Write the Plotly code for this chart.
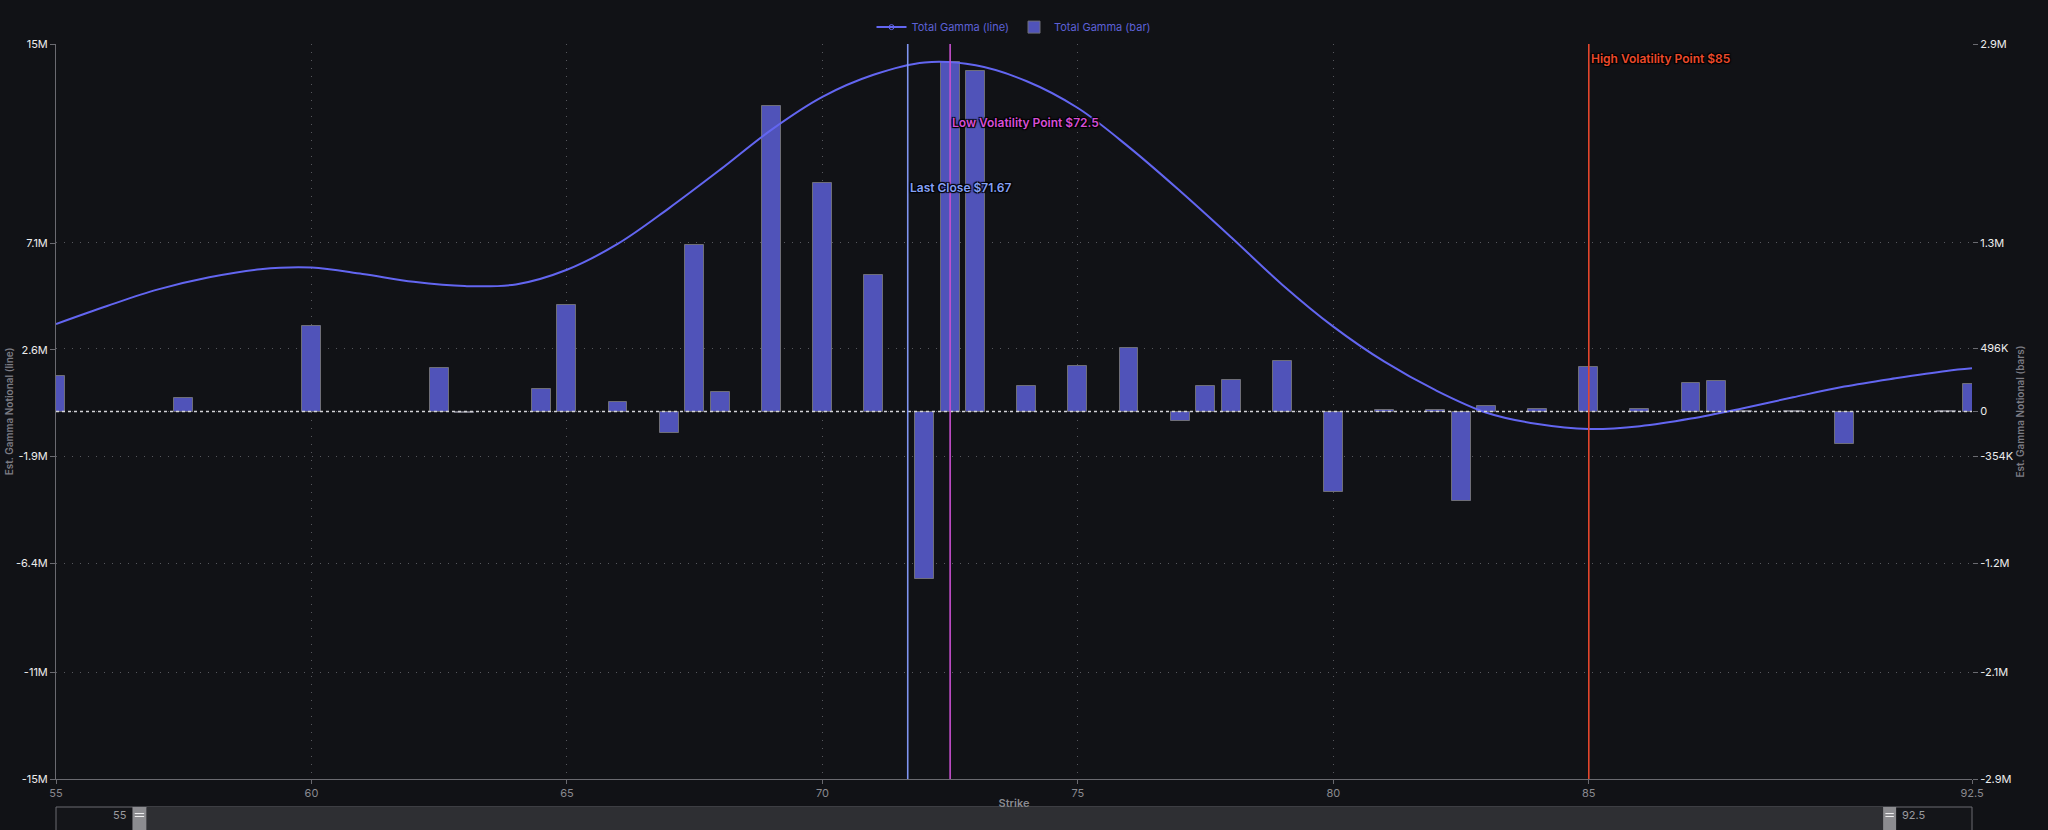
import plotly.graph_objects as go

# strikes and gamma notional
bar_strikes = [55, 57.5, 60, 62.5, 63, 64.5, 65, 66, 67, 67.5,
               68, 69, 70, 71, 72, 72.5, 73, 74, 75, 76,
               77, 77.5, 78, 79, 80, 81, 82, 82.5, 83, 84,
               85, 86, 87, 87.5, 88, 89, 90, 92, 92.5]
bar_gamma = [284e3, 106e3, 678e3, 342e3, -13e3, 177e3, 840e3, 74e3, -170e3, 1310e3,
             155e3, 2410e3, 1800e3, 1076e3, -1320e3, 2760e3, 2690e3, 205e3, 358e3, 503e3,
             -72e3, 200e3, 245e3, 398e3, -636e3, 8e3, 8e3, -707e3, 40e3, 19e3,
             353e3, 16e3, 221e3, 242e3, 4e3, 6e3, -257e3, 5e3, 216e3]

line_strikes = [55, 56, 57, 58, 59, 60, 61, 62, 63, 64,
                65, 66, 67, 68, 69, 70, 71, 72, 73, 74,
                75, 76, 77, 78, 79, 80, 81, 82, 83, 84,
                85, 86, 87, 88, 89, 90, 91, 92, 92.5]
line_gamma = [3.69e6, 4.45e6, 5.15e6, 5.66e6, 6.0e6, 6.07e6, 5.8e6, 5.47e6, 5.29e6, 5.36e6,
              5.98e6, 7.08e6, 8.58e6, 10.2e6, 11.88e6, 13.27e6, 14.2e6, 14.72e6, 14.6e6, 13.93e6,
              12.8e6, 11.15e6, 9.3e6, 7.35e6, 5.35e6, 3.58e6, 2.1e6, 0.9e6, -0.05e6, -0.53e6,
              -0.74e6, -0.62e6, -0.3e6, 0.13e6, 0.6e6, 1.05e6, 1.4e6, 1.71e6, 1.82e6]

# key levels (vertical markers)
level_x = [71.67, 72.5, 85]
level_names = ["Last Close $71.67", "Low Volatility Point $72.5", "High Volatility Point $85"]
level_colors = ["#7f94f0", "#c84fcf", "#e4462c"]
level_text_colors = ["#86a0f6", "#d64fd6", "#ea4a2c"]
level_label_y = [0.805, 0.893, 0.9796]

# axis ticks
x_ticks = [55, 60, 65, 70, 75, 80, 85, 92.5]
left_tickvals = [-15.5e6, -11e6, -6.4e6, -1.9e6, 2.6e6, 7.1e6, 15.5e6]
left_ticktext = ["-15M", "-11M", "-6.4M", "-1.9M", "2.6M", "7.1M", "15M"]
right_tickvals = [-2.9e6, -2.06e6, -1.2e6, -0.354e6, 0, 0.496e6, 1.33e6, 2.9e6]
right_ticktext = ["-2.9M", "-2.1M", "-1.2M", "-354K", "0", "496K", "1.3M", "2.9M"]

BG = "#111216"
GRID = "#56575d"
FONT = "Inter, Roboto, sans-serif"

fig = go.Figure()

# bars on the right axis
fig.add_trace(go.Bar(x=bar_strikes, y=bar_gamma, yaxis="y", width=0.37,
                     marker=dict(color="#5053b9", line=dict(color="#6e6e78", width=1)),
                     name="Total Gamma (bar)", legendrank=2))

# smooth total gamma line on the left axis
fig.add_trace(go.Scatter(x=line_strikes, y=line_gamma, yaxis="y2", mode="lines",
                         line=dict(color="#6366f1", width=2, shape="spline"),
                         showlegend=False, hoverinfo="x+y"))
# legend entry for the line (line + hollow dot)
fig.add_trace(go.Scatter(x=[None], y=[None], yaxis="y2", mode="lines+markers",
                         line=dict(color="#6366f1", width=2),
                         marker=dict(symbol="circle-open", size=5, color="#6366f1"),
                         name="Total Gamma (line)", legendrank=1))

shapes = []
annotations = []

# dotted zero line
shapes.append(dict(type="line", xref="paper", x0=0, x1=1, yref="y", y0=0, y1=0,
                   line=dict(color="#d4d4d8", width=1.5, dash="dot")))

for x, name, col, tcol, ly in zip(level_x, level_names, level_colors, level_text_colors, level_label_y):
    shapes.append(dict(type="line", xref="x", x0=x, x1=x, yref="paper", y0=0, y1=1,
                       line=dict(color=col, width=1.6)))
    annotations.append(dict(x=x, xref="x", y=ly, yref="paper", text=name, showarrow=False,
                            xanchor="left", yanchor="middle", xshift=0,
                            font=dict(family=FONT, size=12, color=tcol, weight=600,
                                      shadow="1px 1px 1px #000, -1px -1px 1px #000, 1px -1px 1px #000, -1px 1px 1px #000")))

# range slider look-alike under the x axis
sy0, sy1 = -0.0381, -0.08
shapes.append(dict(type="rect", xref="paper", yref="paper", x0=0, x1=1, y0=sy0, y1=sy1,
                   fillcolor="#141519", line=dict(color="#6b6b70", width=1), layer="above"))
shapes.append(dict(type="rect", xref="paper", yref="paper", x0=0.0472, x1=0.9536, y0=sy0, y1=sy1,
                   fillcolor="#2e2f33", line=dict(width=0), layer="above"))
for hx0, hx1 in [(0.0399, 0.0472), (0.9536, 0.9604)]:
    shapes.append(dict(type="rect", xref="paper", yref="paper", x0=hx0, x1=hx1, y0=sy0, y1=sy1,
                       fillcolor="#8c8c90", line=dict(width=0), layer="above"))
    for gy in (-0.0470, -0.0510):
        shapes.append(dict(type="line", xref="paper", yref="paper", x0=hx0 + 0.0012, x1=hx1 - 0.0012,
                           y0=gy, y1=gy, line=dict(color="#f0f0f0", width=1), layer="above"))
annotations.append(dict(x=0.0380, y=-0.0490, xref="paper", yref="paper", text="55", showarrow=False,
                        xanchor="right", yanchor="middle", font=dict(family=FONT, size=11, color="#9a9a9e")))
annotations.append(dict(x=0.9625, y=-0.0490, xref="paper", yref="paper", text="92.5", showarrow=False,
                        xanchor="left", yanchor="middle", font=dict(family=FONT, size=11, color="#9a9a9e")))

fig.update_layout(
    template="none",
    width=2048, height=830,
    margin=dict(l=56, r=76, t=44, b=51),
    paper_bgcolor=BG, plot_bgcolor=BG,
    font=dict(family=FONT, size=11, color="#e6e6e6"),
    bargap=0,
    showlegend=True,
    legend=dict(orientation="h", x=0.5, xanchor="center", y=1.023, yanchor="middle",
                font=dict(family=FONT, size=11, color="#5d61d6"), bgcolor="rgba(0,0,0,0)",
                itemwidth=30, traceorder="normal"),
    xaxis=dict(range=[55, 92.5], tickvals=x_ticks, ticktext=[str(v) for v in x_ticks],
               showgrid=True, gridcolor=GRID, griddash="1px,7px", gridwidth=1,
               showline=True, linecolor="#6a6a70", linewidth=1,
               ticks="outside", ticklen=4, tickcolor="#6a6a70",
               tickfont=dict(family=FONT, size=11, color="#8a8a90"),
               zeroline=False, automargin=False,
               title=dict(text="Strike", standoff=0,
                          font=dict(family=FONT, size=11, color="#8a8a90", weight=600))),
    yaxis=dict(side="right", range=[-2.9e6, 2.9e6], tickvals=right_tickvals, ticktext=right_ticktext,
               showgrid=True, gridcolor=GRID, griddash="1px,7px", gridwidth=1,
               showline=False, zeroline=False, ticks="outside", ticklen=5, tickcolor="#6a6a70",
               tickfont=dict(family=FONT, size=11, color="#ececec"), automargin=False,
               title=dict(text="Est. Gamma Notional (bars)", standoff=0,
                          font=dict(family=FONT, size=10, color="#7c7c84", weight=600))),
    yaxis2=dict(side="left", overlaying="y", range=[-15.5e6, 15.5e6],
                tickvals=left_tickvals, ticktext=left_ticktext,
                showgrid=False, zeroline=False, showline=True, linecolor="#6a6a70", linewidth=1,
                ticks="outside", ticklen=5, tickcolor="#6a6a70",
                tickfont=dict(family=FONT, size=11, color="#ececec"), automargin=False,
                title=dict(text="Est. Gamma Notional (line)", standoff=0,
                           font=dict(family=FONT, size=10, color="#7c7c84", weight=600))),
    shapes=shapes,
    annotations=annotations,
)

# drop the default page margin so the chart sits at the window corner, no modebar
fig.write_html("out.html", config={"displayModeBar": False},
               post_script="document.body.style.margin='0';document.body.style.background='#111216';")
